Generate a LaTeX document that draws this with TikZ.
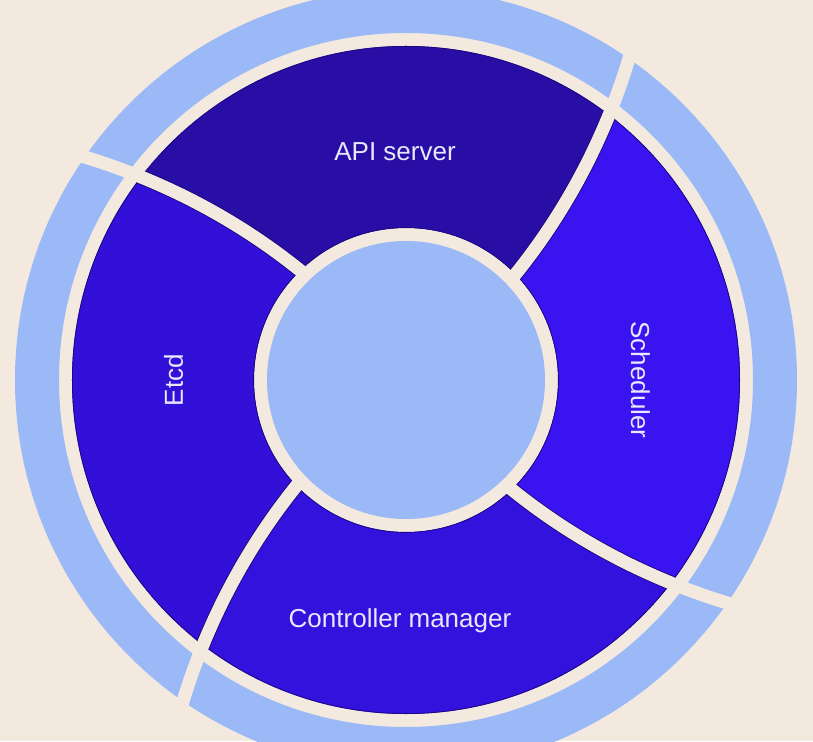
\documentclass[tikz,border=0pt]{standalone}
\usepackage{fontspec}
\setmainfont{Liberation Sans}
\definecolor{bgc}{HTML}{F3E9DF}
\definecolor{lightb}{HTML}{9BB9F7}
\definecolor{apic}{HTML}{280EA5}
\definecolor{etcdc}{HTML}{3210D7}
\definecolor{ctrlc}{HTML}{3412DE}
\definecolor{schedc}{HTML}{3A14F0}
\definecolor{edgec}{HTML}{1A0880}
\definecolor{txtc}{HTML}{EAE6FB}
\tikzset{
  lbl/.style={text=txtc, inner sep=0pt, anchor=base, font=\fontsize{26}{31}\selectfont},
  divider/.style={bgc, line width=13pt},
  dividerEdge/.style={edgec, line width=14.8pt}
}
\begin{document}
\begin{tikzpicture}[x=1pt,y=1pt]
\useasboundingbox (-406,-361) rectangle (407,380);
\fill[bgc] (-406,-361) rectangle (407,380);
% outer ring
\fill[lightb, even odd rule] (0,0) circle (391) (0,0) circle (347);
% segments
\begin{scope}
\clip (0,0) circle (334);
\fill[apic] (0,0) -- plot[domain=100:420,samples=40,variable=\r] ({44+0.047*(\r-152)}:\r) -- (100:900) -- plot[domain=420:100,samples=40,variable=\r] ({134+0.047*(\r-152)}:\r) -- cycle;
\fill[etcdc] (0,0) -- plot[domain=100:420,samples=40,variable=\r] ({134+0.047*(\r-152)}:\r) -- (190:900) -- plot[domain=420:100,samples=40,variable=\r] ({224+0.047*(\r-152)}:\r) -- cycle;
\fill[ctrlc] (0,0) -- plot[domain=100:420,samples=40,variable=\r] ({-136+0.047*(\r-152)}:\r) -- (-80:900) -- plot[domain=420:100,samples=40,variable=\r] ({-46+0.047*(\r-152)}:\r) -- cycle;
\fill[schedc] (0,0) -- plot[domain=100:420,samples=40,variable=\r] ({-46+0.047*(\r-152)}:\r) -- (10:900) -- plot[domain=420:100,samples=40,variable=\r] ({44+0.047*(\r-152)}:\r) -- cycle;
\draw[edgec, line width=1.6pt] (0,0) circle (334);
\foreach \t in {44,134,-46,-136}
  \draw[dividerEdge] plot[domain=100:420,samples=40,variable=\r] ({\t+0.047*(\r-152)}:\r);
\end{scope}
% gap around the hub
\fill[bgc] (0,0) circle (152);
\draw[edgec, line width=0.8pt] (0,0) circle (152.4);
% dividers through segments and outer ring
\foreach \t in {44,134,-46,-136}
  \draw[divider] plot[domain=140:405,samples=40,variable=\r] ({\t+0.047*(\r-152)}:\r);
% hub
\fill[lightb] (0,0) circle (139);
% labels
\node[lbl] (api) at (-11,219) {API server};
\node[lbl, rotate=90] (etcd) at (-223,0) {Etcd};
\node[lbl, rotate=-90] (sched) at (225,0) {Scheduler};
\node[lbl] (ctrl) at (-6,-247) {Controller manager};
\end{tikzpicture}
\end{document}
